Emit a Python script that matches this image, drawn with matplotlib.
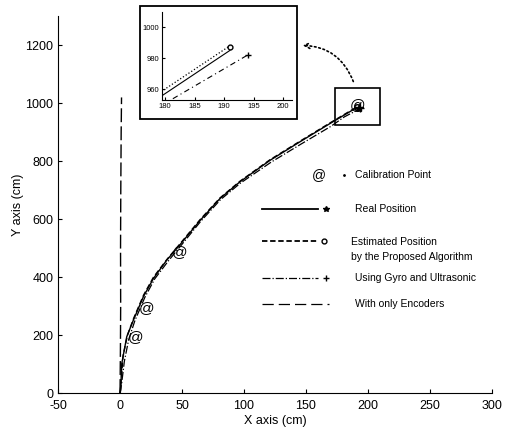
import matplotlib
matplotlib.use('Agg')
import matplotlib.pyplot as plt
from matplotlib.patches import Rectangle

plt.rcParams['font.family'] = ['Liberation Sans', 'DejaVu Sans']
plt.rcParams['axes.unicode_minus'] = False

# --- data (cm) ---
real_x = [0, 0.5, 1.4, 5.4, 10.8, 18.8, 26.9, 37.6, 48.4, 64.5, 80.6, 96.8, 121, 145.2, 169.4, 180, 191]
real_y = [0, 10, 102, 194, 252, 332, 395, 458, 512, 595, 671, 729, 803, 867, 930, 957, 985]

est_x = [0, 0.8, 2.5, 6, 11, 19, 27, 38, 48.4, 64.5, 80.6, 96.8, 121, 145.2, 169.4, 180, 191]
est_y = [0, 40, 130, 200, 258, 338, 400, 462, 515, 598, 673, 731, 805, 869, 932, 959, 987]

gyro_x = [0, 1.2, 3.5, 7, 12, 20, 28, 39, 49, 65, 81, 97, 122, 146, 170, 181, 194]
gyro_y = [0, 30, 110, 185, 250, 330, 394, 456, 508, 592, 667, 724, 797, 859, 920, 953, 982]

enc_x = [0, 0.3, 0.5, 0.4, 0.6, 0.9, 1.2]
enc_y = [0, 150, 300, 500, 700, 900, 1020]

cal_x = [12.6, 21.5, 48.4, 191.7]
cal_y = [194, 294, 487, 993]

legend_labels = ['Calibration Point', 'Real Position', 'Estimated Position\nby the Proposed Algorithm',
                 'Using Gyro and Ultrasonic', 'With only Encoders']

fig = plt.figure(figsize=(5.05, 4.36), dpi=100)
ax = fig.add_axes([0.115, 0.0986, 0.859, 0.864])

ax.plot(real_x, real_y, '-', color='k', lw=1.0)
ax.plot(est_x, est_y, '--', color='k', lw=1.0, dashes=(4, 2))
ax.plot(gyro_x, gyro_y, '-.', color='k', lw=0.9)
ax.plot(enc_x, enc_y, '--', color='k', lw=1.0, dashes=(10, 3))
ax.plot(real_x[-1] + 2, real_y[-1], '*', color='k', ms=6)
ax.plot(est_x[-1], est_y[-1], 'o', mfc='none', mec='k', ms=4)
ax.plot(gyro_x[-1], gyro_y[-1], '+', color='k', ms=6)
for cx, cy in zip(cal_x, cal_y):
    ax.text(cx, cy, '@', fontsize=11, ha='center', va='center', color='k')

ax.set_xlim(-50, 300)
ax.set_ylim(0, 1300)
ax.set_xticks(range(-50, 301, 50))
ax.set_yticks(range(0, 1201, 200))
ax.spines['top'].set_visible(False)
ax.spines['right'].set_visible(False)
ax.tick_params(direction='in', labelsize=9, length=3)
ax.tick_params(axis='x', pad=5)
ax.set_xlabel('X axis (cm)', fontsize=9, labelpad=2)
ax.set_ylabel('Y axis (cm)', fontsize=9, labelpad=1)

# zoom box and dotted arrow to the inset
ax.add_patch(Rectangle((173.5, 924), 36, 128, fill=False, ec='k', lw=1.2))
ax.annotate('', xy=(145, 1200), xytext=(189, 1066),
            arrowprops=dict(arrowstyle='->', ls=':', lw=1.2, color='k',
                            connectionstyle='arc3,rad=0.35'))

# hand drawn legend in axes coords
lx0, lx1, tx = 0.47, 0.60, 0.685
rows = [0.579, 0.489, 0.403, 0.304, 0.235]
ax.text(0.602, rows[0], '@', transform=ax.transAxes, fontsize=10, ha='center', va='center')
ax.plot([0.66], [rows[0]], transform=ax.transAxes, ls='none', marker='.', ms=2, color='k')
ax.plot([lx0, lx1], [rows[1]] * 2, '-', transform=ax.transAxes, color='k', lw=1.3)
ax.plot([0.618], [rows[1]], '*', transform=ax.transAxes, color='k', ms=4)
ax.plot([lx0, lx1], [rows[2]] * 2, '--', transform=ax.transAxes, color='k', lw=1.3, dashes=(3, 1.5))
ax.plot([0.612], [rows[2]], 'o', transform=ax.transAxes, mfc='none', mec='k', ms=3.5)
ax.plot([lx0, lx1], [rows[3]] * 2, '-.', transform=ax.transAxes, color='k', lw=0.9)
ax.plot([0.618], [rows[3]], '+', transform=ax.transAxes, color='k', ms=5)
ax.plot([lx0, 0.625], [rows[4]] * 2, '--', transform=ax.transAxes, color='k', lw=0.9, dashes=(9, 4))
for i, lab in enumerate(legend_labels):
    if '\n' in lab:
        ax.text(tx - 0.01, rows[i] + 0.012, lab, transform=ax.transAxes, fontsize=7.5,
                va='top', linespacing=1.7)
    else:
        ax.text(tx, rows[i], lab, transform=ax.transAxes, fontsize=7.5, va='center')

# inset
fig.add_artist(Rectangle((0.277, 0.727), 0.311, 0.259, transform=fig.transFigure,
                         fc='white', ec='k', lw=1.3, zorder=3))
ins = fig.add_axes([0.321, 0.771, 0.257, 0.202], zorder=4)
ins.patch.set_alpha(0)
ins.plot(real_x, real_y, '-', color='k', lw=0.8)
ins.plot(est_x, [v + 1 for v in est_y], ':', color='k', lw=0.9)
ins.plot(gyro_x, gyro_y, '-.', color='k', lw=0.8, dashes=(5, 3, 1, 3))
ins.plot(est_x[-1], est_y[-1], 'o', mfc='none', mec='k', ms=3.5)
ins.plot(gyro_x[-1], gyro_y[-1], '+', color='k', ms=4)
ins.set_xlim(179.5, 201.5)
ins.set_ylim(953, 1010)
ins.set_xticks([180, 185, 190, 195, 200])
ins.set_yticks([960, 980, 1000])
ins.spines['top'].set_visible(False)
ins.spines['right'].set_visible(False)
ins.tick_params(direction='in', labelsize=5.5, length=2, pad=2)

fig.savefig('out.png', dpi=100)
